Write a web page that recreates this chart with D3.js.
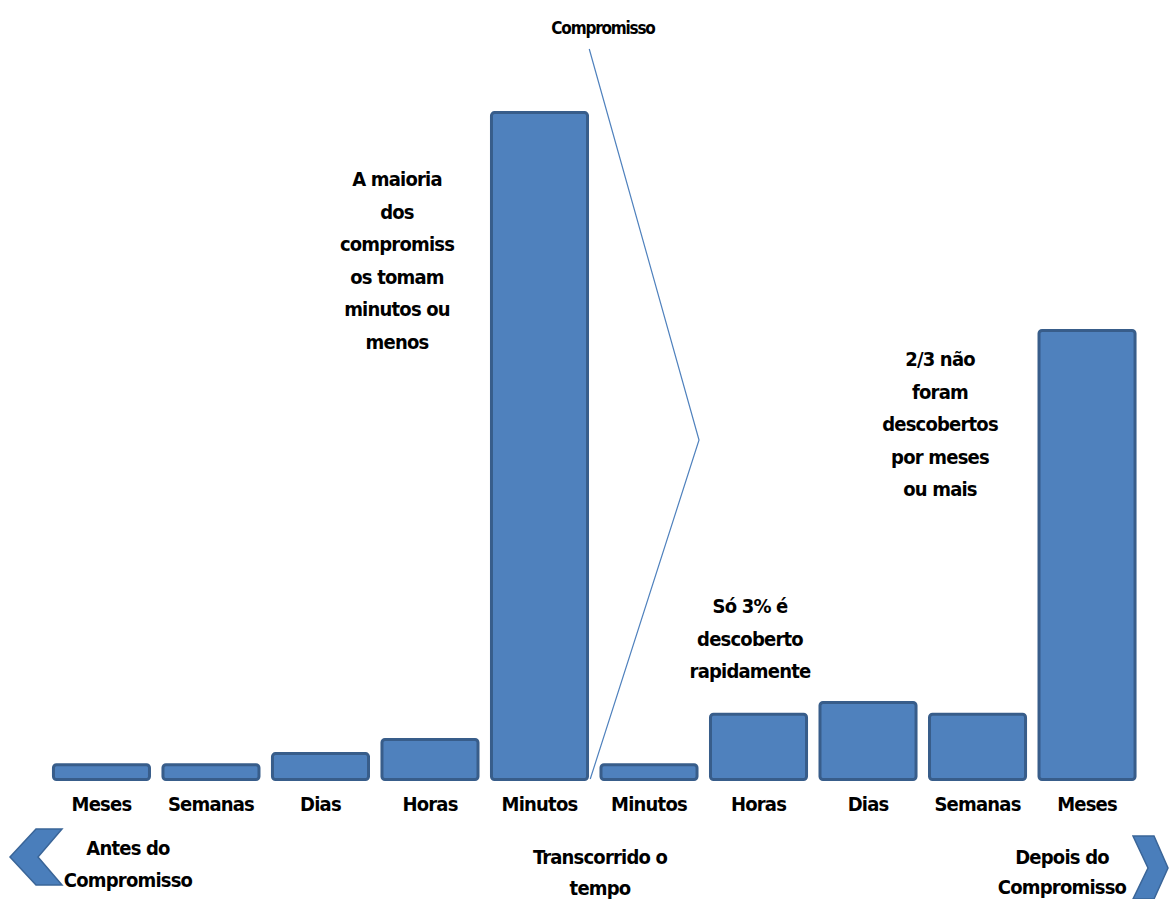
<!DOCTYPE html>
<meta charset="utf-8">
<style>
  body { margin: 0; background: #fff; }
  .lbl {
    font-family: "Liberation Sans Narrow", "DejaVu Sans Condensed", sans-serif;
    font-weight: bold;
    font-size: 20px;
    letter-spacing: -0.8px;
    fill: #000;
  }
  .bar {
    fill: #4f81bd;
    stroke: #385d8a;
    stroke-width: 3px;
  }
</style>
<body>
<script src="https://d3js.org/d3.v7.js"></script>
<div id="my_dataviz"></div>
<script>

// categories (time elapsed), before and after the compromise
var categories = ["Meses", "Semanas", "Dias", "Horas", "Minutos",
                  "Minutos", "Horas", "Dias", "Semanas", "Meses"];
// bar heights (share, %)
var values = [2.0, 2.0, 3.5, 5.4, 90, 2.0, 8.8, 10.4, 8.8, 60.6];

var notes = [
  {lines: ["A maioria", "dos", "compromiss", "os tomam", "minutos ou", "menos"], x: 397, y: 186},
  {lines: ["Só 3% é", "descoberto", "rapidamente"], x: 750, y: 613},
  {lines: ["2/3 não", "foram", "descobertos", "por meses", "ou mais"], x: 940, y: 366}
];

var width = 1174, height = 899;

var svg = d3.select("#my_dataviz").append("svg")
    .attr("width", width)
    .attr("height", height);

var x = d3.scaleBand()
    .domain(d3.range(categories.length))
    .range([42.5, 1146])
    .paddingInner(0.123)
    .paddingOuter(0.1);

var y = d3.scaleLinear()
    .domain([0, 100])
    .range([779.5, 38.5]);

// bars
svg.append("g")
  .selectAll("rect")
  .data(values)
  .enter()
  .append("rect")
    .attr("class", "bar")
    .attr("x", function(d, i) { return x(i); })
    .attr("y", function(d) { return y(d); })
    .attr("width", x.bandwidth())
    .attr("height", function(d) { return y(0) - y(d); })
    .attr("rx", 3);

// category labels
svg.append("g")
  .selectAll("text")
  .data(categories)
  .enter()
  .append("text")
    .attr("class", "lbl")
    .attr("x", function(d, i) { return x(i) + x.bandwidth() / 2; })
    .attr("y", 811)
    .attr("text-anchor", "middle")
    .text(function(d) { return d; });

// "Compromisso" marker line
var gap = (x.step() - x.bandwidth()) / 2;
var xSplit = x(4) + x.bandwidth() + gap;
svg.append("path")
    .attr("d", d3.line()([
      [xSplit - 5, 49],
      [x(5) + x.bandwidth() + 2, 440],
      [xSplit - 4, 779]
    ]))
    .attr("fill", "none")
    .attr("stroke", "#4f81bd")
    .attr("stroke-width", 1.2);

svg.append("text")
    .attr("class", "lbl")
    .attr("x", 603)
    .attr("y", 34)
    .attr("text-anchor", "middle")
    .style("font-size", "17px")
    .style("letter-spacing", "-1.2px")
    .text("Compromisso");

// multi-line annotations
function block(lines, cx, y0, dy) {
  var t = svg.append("text")
      .attr("class", "lbl")
      .attr("text-anchor", "middle");
  lines.forEach(function(s, i) {
    t.append("tspan").attr("x", cx).attr("y", y0 + i * dy).text(s);
  });
}

notes.forEach(function(n) { block(n.lines, n.x, n.y, 32.5); });

block(["Antes do", "Compromisso"], 128, 855, 32);
block(["Transcorrido o", "tempo"], 600, 864, 31);
block(["Depois do", "Compromisso"], 1062, 864, 30);

// chevrons
var chevL = [[36, 829], [62, 829], [38, 857], [62, 885], [36, 885], [10, 857]];
var chevR = [[1133, 836], [1154, 836], [1168, 868], [1154, 899], [1133, 899], [1148, 868]];
[chevL, chevR].forEach(function(p) {
  svg.append("path")
      .attr("d", d3.line()(p) + "Z")
      .attr("fill", "#4a7ebb")
      .attr("stroke", "#3a6598")
      .attr("stroke-width", 1.5);
});

</script>
</body>
